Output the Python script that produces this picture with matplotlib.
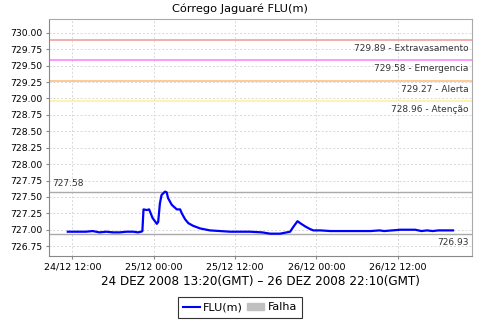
import matplotlib
matplotlib.use("Agg")
import matplotlib.pyplot as plt
import matplotlib.dates as mdates
import matplotlib.patches as mpatches
from matplotlib.lines import Line2D
from datetime import datetime

# ---- data (local time on axis) ----
times = [
    "2008-12-24 11:20", "2008-12-24 12:30", "2008-12-24 14:00", "2008-12-24 15:00",
    "2008-12-24 16:00", "2008-12-24 17:00", "2008-12-24 18:00", "2008-12-24 19:00",
    "2008-12-24 20:00", "2008-12-24 21:00", "2008-12-24 21:40", "2008-12-24 22:10",
    "2008-12-24 22:20", "2008-12-24 22:30", "2008-12-24 23:00", "2008-12-24 23:20",
    "2008-12-24 23:50", "2008-12-25 00:28", "2008-12-25 00:40", "2008-12-25 00:55",
    "2008-12-25 01:10", "2008-12-25 01:40", "2008-12-25 01:55", "2008-12-25 02:08",
    "2008-12-25 02:40", "2008-12-25 03:25", "2008-12-25 03:54", "2008-12-25 04:09",
    "2008-12-25 04:38", "2008-12-25 05:07", "2008-12-25 05:49", "2008-12-25 06:51",
    "2008-12-25 08:18", "2008-12-25 09:48", "2008-12-25 11:18", "2008-12-25 14:13",
    "2008-12-25 16:00", "2008-12-25 17:11", "2008-12-25 18:39", "2008-12-25 19:38",
    "2008-12-25 20:08", "2008-12-25 20:35", "2008-12-25 21:13", "2008-12-25 21:37",
    "2008-12-25 22:22", "2008-12-25 23:05", "2008-12-25 23:34", "2008-12-26 00:36",
    "2008-12-26 02:05", "2008-12-26 05:00", "2008-12-26 08:00", "2008-12-26 09:20",
    "2008-12-26 10:00", "2008-12-26 12:24", "2008-12-26 14:36", "2008-12-26 15:30",
    "2008-12-26 16:20", "2008-12-26 17:10", "2008-12-26 18:00", "2008-12-26 19:00",
    "2008-12-26 20:10",
]
levels = [
    726.97, 726.97, 726.97, 726.98,
    726.96, 726.97, 726.96, 726.96,
    726.97, 726.97, 726.96, 726.97,
    726.98, 727.31, 727.30, 727.31,
    727.18, 727.09, 727.12, 727.40,
    727.53, 727.58, 727.57, 727.48,
    727.38, 727.31, 727.31, 727.25,
    727.16, 727.10, 727.06, 727.02,
    726.99, 726.98, 726.97, 726.97,
    726.96, 726.94, 726.94, 726.96,
    726.97, 727.04, 727.13, 727.10,
    727.05, 727.01, 726.99, 726.99,
    726.98, 726.98, 726.98, 726.99,
    726.98, 727.00, 727.00, 726.98,
    726.99, 726.98, 726.99, 726.99,
    726.99,
]
thresholds = [729.89, 729.58, 729.27, 728.96]
threshold_names = ["Extravasamento", "Emergencia", "Alerta", "Atenção"]
threshold_colors = ["#f0a0a0", "#ff88ff", "#ffc080", "#fff0a0"]
max_level = 727.58
min_level = 726.93
x_start = "2008-12-24 08:36"
x_end = "2008-12-26 22:58"
title = "Córrego Jaguaré FLU(m)"
xlabel = "24 DEZ 2008 13:20(GMT) – 26 DEZ 2008 22:10(GMT)"

t = [datetime.strptime(s, "%Y-%m-%d %H:%M") for s in times]

fig = plt.figure(figsize=(4.8, 3.2), dpi=100)
ax = fig.add_axes([0.1027, 0.2, 0.8806, 0.7406])
renderer = fig.canvas.get_renderer()


def fit(txt, target_px):
    w = txt.get_window_extent(renderer=renderer).width
    txt.set_fontsize(txt.get_fontsize() * target_px / w)


ax.set_xlim(datetime.strptime(x_start, "%Y-%m-%d %H:%M"),
            datetime.strptime(x_end, "%Y-%m-%d %H:%M"))
ax.set_ylim(726.60, 730.21)
ax.set_yticks([726.75 + 0.25 * i for i in range(14)])
ax.yaxis.set_major_formatter(matplotlib.ticker.FormatStrFormatter("%.2f"))
ax.xaxis.set_major_locator(mdates.HourLocator(byhour=[0, 12]))
ax.xaxis.set_major_formatter(mdates.DateFormatter("%d/%m %H:%M"))

ax.grid(True, color="#d8d8d8", linestyle=(0, (2, 2)), linewidth=0.7)
ax.set_axisbelow(True)

for v, n, c in zip(thresholds, threshold_names, threshold_colors):
    ax.axhline(v, color=c, linewidth=1.2, zorder=2)
    ax.text(0.992, v - 0.06, f"{v:.2f} - {n}", transform=ax.get_yaxis_transform(),
            ha="right", va="top", fontsize=6.5, color="#333333")

ax.axhline(max_level, color="#aaaaaa", linewidth=1.0, zorder=2)
ax.text(0.008, max_level + 0.06, f"{max_level:.2f}", transform=ax.get_yaxis_transform(),
        ha="left", va="bottom", fontsize=6.5, color="#333333")
ax.axhline(min_level, color="#aaaaaa", linewidth=1.0, zorder=2)
ax.text(0.992, min_level - 0.06, f"{min_level:.2f}", transform=ax.get_yaxis_transform(),
        ha="right", va="top", fontsize=6.5, color="#333333")

ax.plot(t, levels, color="#0000ff", linewidth=1.6, zorder=3)

for s in ["top", "right"]:
    ax.spines[s].set_color("#aaaaaa")
for s in ["left", "bottom"]:
    ax.spines[s].set_color("#888888")

# tick label sizes fitted to reference pixel widths
probe_y = fig.text(0, 0, "730.00", fontsize=8)
fit(probe_y, 32.5)
ysize = probe_y.get_fontsize()
probe_x = fig.text(0, 0, "24/12 12:00", fontsize=8)
fit(probe_x, 57.5)
xsize = probe_x.get_fontsize()
probe_y.remove()
probe_x.remove()
ax.tick_params(axis="y", labelsize=ysize, length=2, color="#888888", pad=3)
ax.tick_params(axis="x", labelsize=xsize, length=2, color="#888888", pad=3)

ttl = fig.text(0.5, 1 - 12 / 320, title, ha="center", va="baseline", fontsize=9)
fit(ttl, 136)

xl = ax.set_xlabel(xlabel, fontsize=9, labelpad=2)
fit(xl, 321)

handles = [Line2D([0], [0], color="#0000ff", linewidth=1.5),
           mpatches.Patch(color="#c0c0c0")]
leg = fig.legend(handles, ["FLU(m)", "Falha"], loc="lower center",
                 bbox_to_anchor=(0.5, 0.003), ncol=2, fontsize=8, frameon=True,
                 fancybox=False, edgecolor="black", handlelength=1.5,
                 handletextpad=0.3, columnspacing=0.4, borderpad=0.5,
                 borderaxespad=0.1, handleheight=0.6)
leg.get_frame().set_linewidth(0.8)

fig.savefig("out.png", dpi=100)
